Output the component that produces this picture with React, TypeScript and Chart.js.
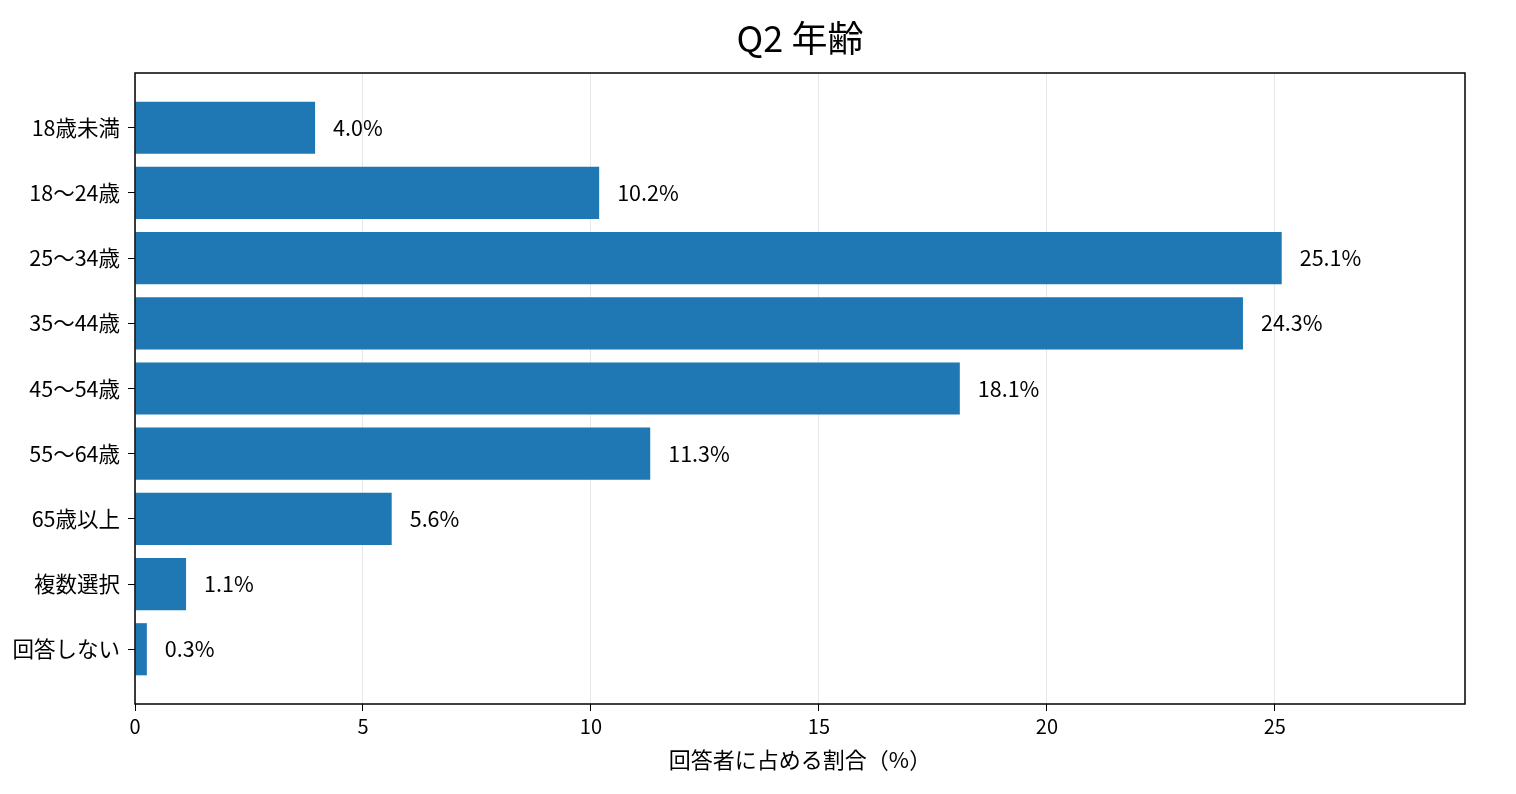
import React, { useEffect, useRef } from 'react'
import Chart from 'chart.js/auto'

const FONT = '"Noto Sans CJK JP", "Noto Sans", sans-serif'

const titleText = 'Q2 年齢'
const xAxisTitle = '回答者に占める割合（%）'
const categories = ['18歳未満', '18〜24歳', '25〜34歳', '35〜44歳', '45〜54歳', '55〜64歳', '65歳以上', '複数選択', '回答しない']
// labels show one decimal
const shares = [3.95, 10.18, 25.15, 24.3, 18.09, 11.3, 5.63, 1.12, 0.26]
const xTicks = [0, 5, 10, 15, 20, 25]
const xMax = 29.17

const frameAndLabels = {
  id: 'frameAndLabels',
  afterDatasetsDraw(chart: any) {
    const { ctx } = chart
    const meta = chart.getDatasetMeta(0)
    ctx.save()
    ctx.fillStyle = '#000'
    ctx.font = `21.5px ${FONT}`
    ctx.textAlign = 'left'
    ctx.textBaseline = 'middle'
    meta.data.forEach((el: any, i: number) => {
      ctx.fillText(`${shares[i].toFixed(1)}%`, el.x + 18, el.y)
    })
    ctx.restore()
  },
  afterDraw(chart: any) {
    const { ctx, chartArea: a } = chart
    ctx.save()
    ctx.strokeStyle = '#000'
    ctx.lineWidth = 1.5
    ctx.strokeRect(a.left, a.top, a.right - a.left, a.bottom - a.top)
    // title centred over the plot area
    ctx.fillStyle = '#000'
    ctx.font = `36px ${FONT}`
    ctx.textAlign = 'center'
    ctx.textBaseline = 'middle'
    ctx.fillText(titleText, (a.left + a.right) / 2, 30)
    ctx.restore()
  },
}

export default function App() {
  const canvasRef = useRef<HTMLCanvasElement>(null)
  const chartRef = useRef<Chart | null>(null)

  useEffect(() => {
    if (!canvasRef.current) return
    chartRef.current = new Chart(canvasRef.current, {
      type: 'bar',
      data: {
        datasets: [{
          data: shares.map((v, i) => ({ x: v, y: i })),
          backgroundColor: '#1f77b4',
          barPercentage: 0.8,
          categoryPercentage: 1,
        }],
      },
      options: {
        indexAxis: 'y',
        animation: false,
        responsive: true,
        maintainAspectRatio: false,
        layout: { padding: { top: 65, right: 43, left: 0, bottom: 0 } },
        plugins: { legend: { display: false }, tooltip: { enabled: false }, title: { display: false } },
        scales: {
          x: {
            type: 'linear',
            min: 0,
            max: xMax,
            z: 1,
            afterBuildTicks: (s: any) => { s.ticks = xTicks.map(v => ({ value: v })) },
            afterFit: (s: any) => { s.height = 82 },
            grid: { color: 'rgba(176,176,176,0.3)', tickColor: '#000', tickLength: 7, lineWidth: 1 },
            border: { display: false },
            ticks: { color: '#000', font: { family: FONT, size: 20 }, padding: 3, maxRotation: 0 },
            title: { display: true, text: xAxisTitle, color: '#000', font: { family: FONT, size: 22 }, padding: { top: 13, bottom: 13 } },
          },
          y: {
            type: 'linear',
            reverse: true,
            offset: false,
            min: -0.84,
            max: categories.length - 1 + 0.84,
            afterBuildTicks: (s: any) => { s.ticks = categories.map((_, i) => ({ value: i })) },
            afterFit: (s: any) => { s.width = 127 },
            grid: { offset: false, drawOnChartArea: false, tickColor: '#000', tickLength: 7 },
            border: { display: false },
            ticks: {
              autoSkip: false,
              color: '#000',
              font: { family: FONT, size: 21.5 },
              padding: 8,
              callback: (v: any) => categories[v as number] ?? '',
            },
          },
        },
      },
      plugins: [frameAndLabels],
    })
    return () => { chartRef.current?.destroy(); chartRef.current = null }
  }, [])

  return (
    <div style={{ width: '1500px', height: '778px', position: 'relative' }}>
      <canvas ref={canvasRef}></canvas>
    </div>
  )
}
